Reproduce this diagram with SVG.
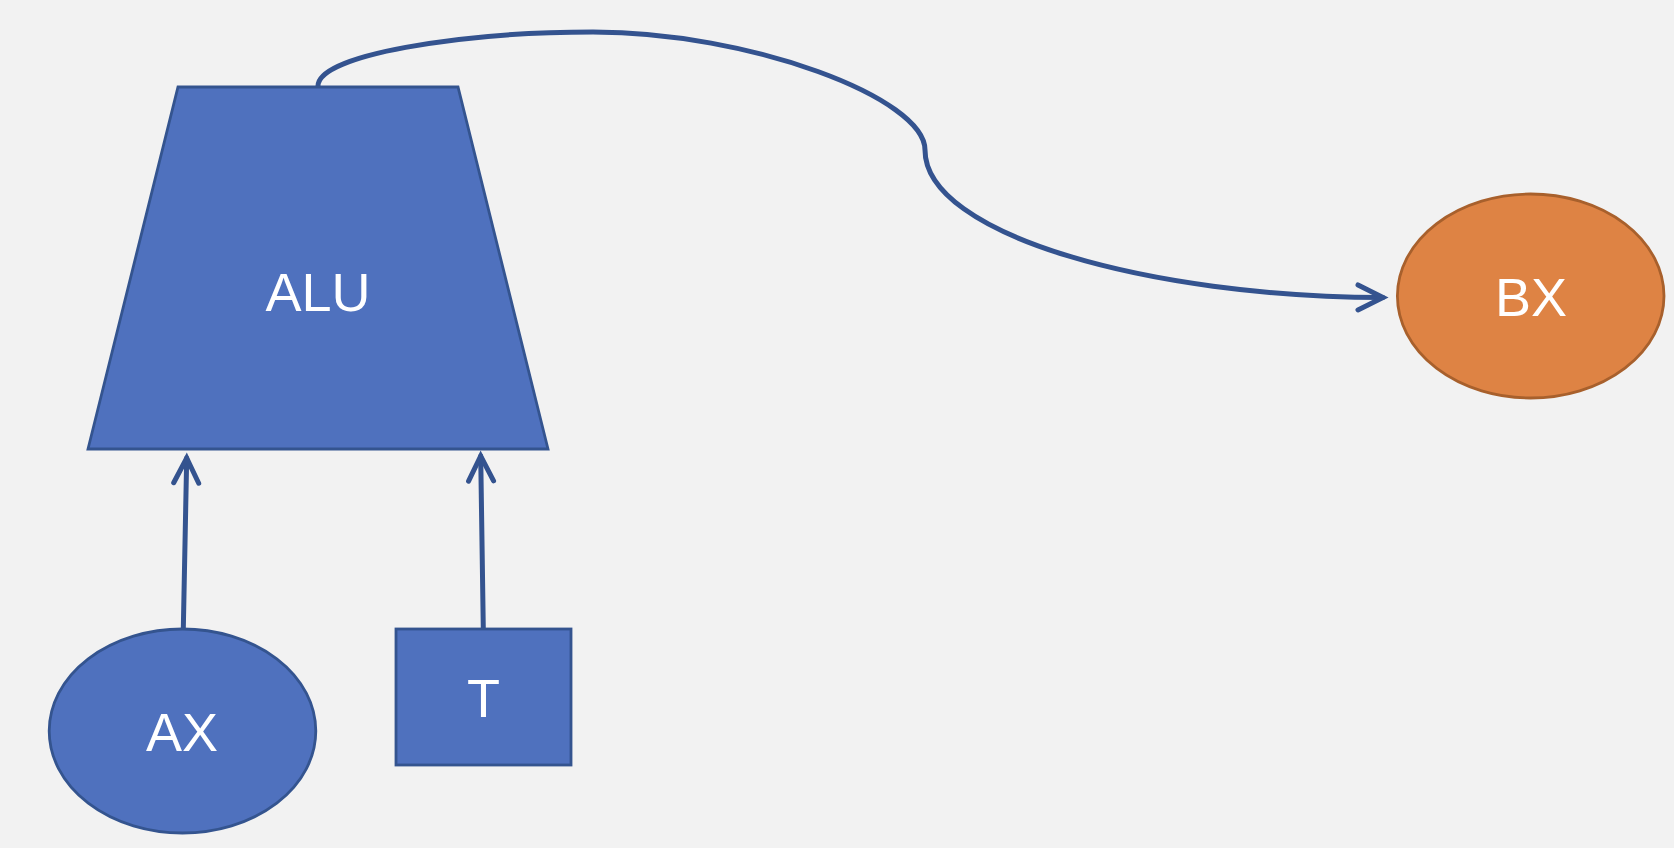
<svg xmlns="http://www.w3.org/2000/svg" width="1674" height="848" viewBox="0 0 1674 848">
  <style>
    .blue { fill: #4f71be; stroke: #34548f; stroke-width: 2.8; }
    .orange { fill: #de8344; stroke: #a8602c; stroke-width: 2.8; }
    .label { font-family: "Liberation Sans", Arial, sans-serif; font-size: 54px; fill: #ffffff; text-anchor: middle; }
    .wire { fill: none; stroke: #34538f; stroke-width: 5; stroke-linecap: round; marker-end: url(#head); }
  </style>
  <defs>
    <!-- open chevron arrowhead, tip at the path end -->
    <marker id="head" markerUnits="userSpaceOnUse" orient="auto" refX="0" refY="0"
            viewBox="-30 -16 34 32" markerWidth="34" markerHeight="32" overflow="visible">
      <path d="M-25,-12.5 L0,0 L-25,12.5" fill="none" stroke="#34538f" stroke-width="5"
            stroke-linecap="round" stroke-linejoin="miter"/>
    </marker>
  </defs>

  <rect width="1674" height="848" fill="#f2f2f2"/>

  <g id="connectors">
    <!-- ALU output to BX -->
    <path class="wire" d="M318,86 C318,55 460,32 593,32 C750,32 925,98 925,150 C925,235 1150,297 1383,297.5"/>
    <!-- AX to ALU -->
    <path class="wire" d="M183.3,629 L186.7,458"/>
    <!-- T to ALU -->
    <path class="wire" d="M483.3,629 L480.7,456"/>
  </g>

  <g id="alu">
    <polygon class="blue" points="178,87 458,87 548,449 88,449"/>
    <text class="label" x="318" y="311">ALU</text>
  </g>

  <g id="bx">
    <ellipse class="orange" cx="1530.7" cy="296" rx="133.3" ry="102"/>
    <text class="label" x="1531" y="316">BX</text>
  </g>

  <g id="ax">
    <ellipse class="blue" cx="182.5" cy="731" rx="133.3" ry="102"/>
    <text class="label" x="182" y="751">AX</text>
  </g>

  <g id="t">
    <rect class="blue" x="396" y="629" width="175" height="136" stroke-width="3"/>
    <text class="label" x="483.5" y="717">T</text>
  </g>
</svg>
